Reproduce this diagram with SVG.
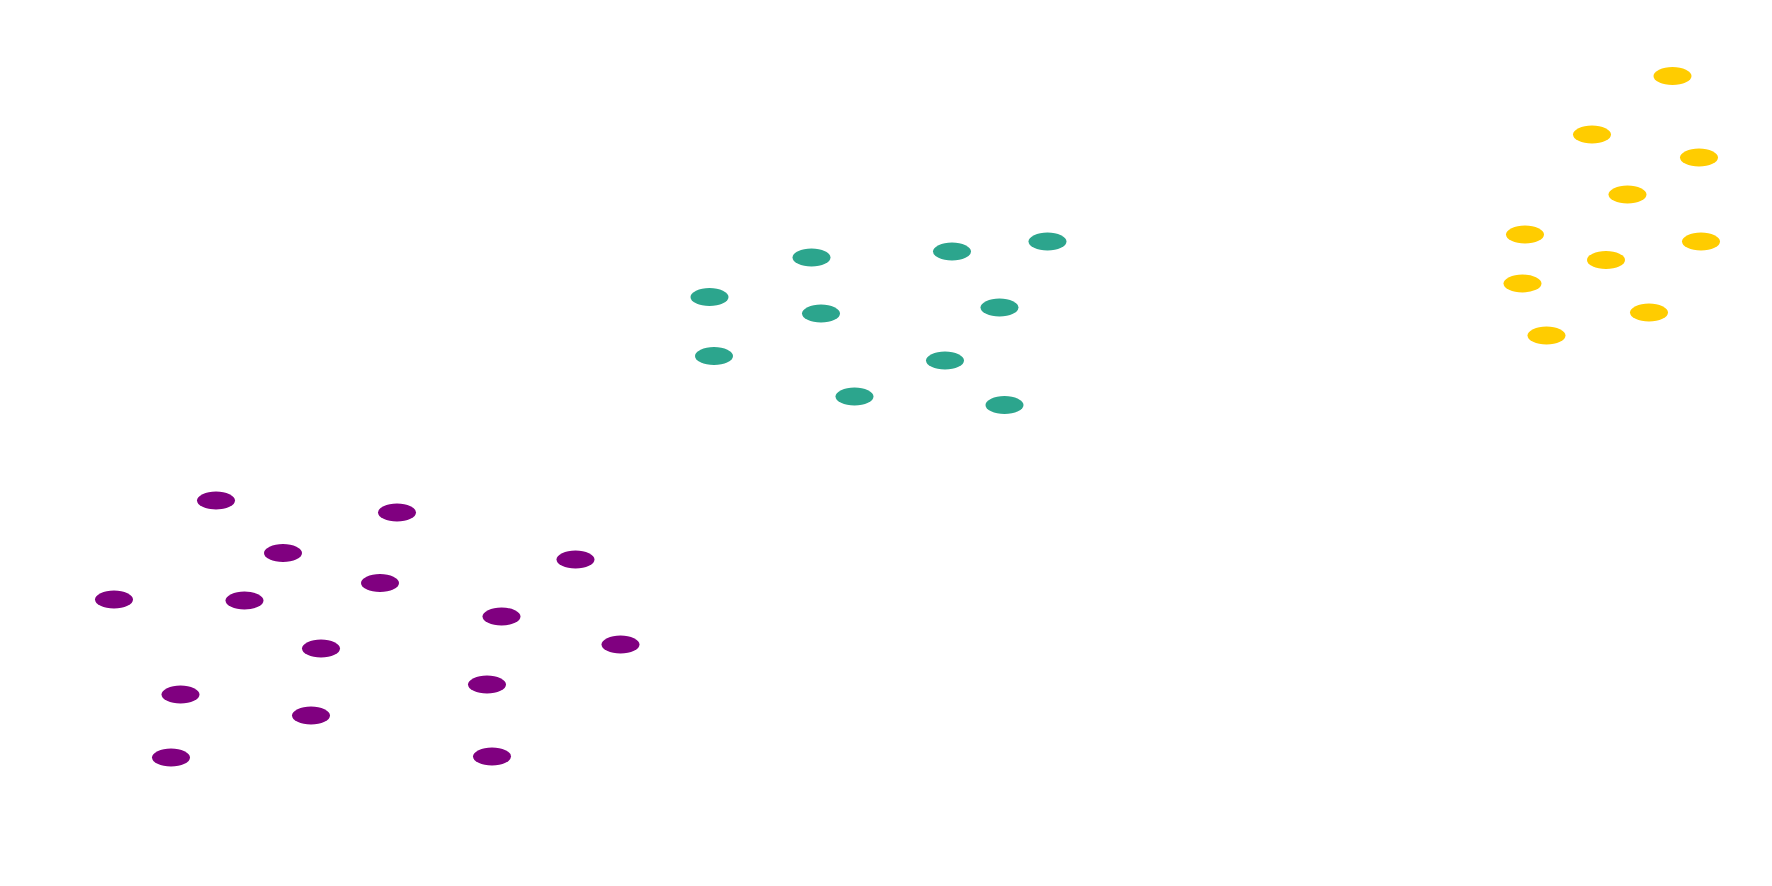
<svg xmlns="http://www.w3.org/2000/svg" width="1772" height="886" viewBox="0 0 1772 886">
<style>
.n ellipse{rx:19px;ry:9px}
.p{fill:#800080}
.g{fill:#2ca58d}
.y{fill:#ffcc00}
</style>
<rect width="1772" height="886" fill="#ffffff"/>
<g id="connectors"/>
<g id="purple" class="n">
<g id="p1"><ellipse class="p" cx="216" cy="500.5" rx="19" ry="9"/></g>
<g id="p2"><ellipse class="p" cx="397" cy="512.5" rx="19" ry="9"/></g>
<g id="p3"><ellipse class="p" cx="283" cy="553" rx="19" ry="9"/></g>
<g id="p4"><ellipse class="p" cx="575.5" cy="559.5" rx="19" ry="9"/></g>
<g id="p5"><ellipse class="p" cx="380" cy="583" rx="19" ry="9"/></g>
<g id="p6"><ellipse class="p" cx="114" cy="599.5" rx="19" ry="9"/></g>
<g id="p7"><ellipse class="p" cx="244.5" cy="600.5" rx="19" ry="9"/></g>
<g id="p8"><ellipse class="p" cx="501.5" cy="616.5" rx="19" ry="9"/></g>
<g id="p9"><ellipse class="p" cx="620.5" cy="644.5" rx="19" ry="9"/></g>
<g id="p10"><ellipse class="p" cx="321" cy="648.5" rx="19" ry="9"/></g>
<g id="p11"><ellipse class="p" cx="180.5" cy="694.5" rx="19" ry="9"/></g>
<g id="p12"><ellipse class="p" cx="487" cy="684.5" rx="19" ry="9"/></g>
<g id="p13"><ellipse class="p" cx="311" cy="715.5" rx="19" ry="9"/></g>
<g id="p14"><ellipse class="p" cx="171" cy="757.5" rx="19" ry="9"/></g>
<g id="p15"><ellipse class="p" cx="492" cy="756.5" rx="19" ry="9"/></g>
</g>
<g id="green" class="n">
<g id="g1"><ellipse class="g" cx="811.5" cy="257.5" rx="19" ry="9"/></g>
<g id="g2"><ellipse class="g" cx="952" cy="251.5" rx="19" ry="9"/></g>
<g id="g3"><ellipse class="g" cx="1047.5" cy="241.5" rx="19" ry="9"/></g>
<g id="g4"><ellipse class="g" cx="709.5" cy="297" rx="19" ry="9"/></g>
<g id="g5"><ellipse class="g" cx="821" cy="313.5" rx="19" ry="9"/></g>
<g id="g6"><ellipse class="g" cx="999.5" cy="307.5" rx="19" ry="9"/></g>
<g id="g7"><ellipse class="g" cx="714" cy="356" rx="19" ry="9"/></g>
<g id="g8"><ellipse class="g" cx="945" cy="360.5" rx="19" ry="9"/></g>
<g id="g9"><ellipse class="g" cx="854.5" cy="396.5" rx="19" ry="9"/></g>
<g id="g10"><ellipse class="g" cx="1004.5" cy="405" rx="19" ry="9"/></g>
</g>
<g id="yellow" class="n">
<g id="y1"><ellipse class="y" cx="1672.5" cy="76" rx="19" ry="9"/></g>
<g id="y2"><ellipse class="y" cx="1592" cy="134.5" rx="19" ry="9"/></g>
<g id="y3"><ellipse class="y" cx="1699" cy="157.5" rx="19" ry="9"/></g>
<g id="y4"><ellipse class="y" cx="1627.5" cy="194.5" rx="19" ry="9"/></g>
<g id="y5"><ellipse class="y" cx="1525" cy="234.5" rx="19" ry="9"/></g>
<g id="y6"><ellipse class="y" cx="1701" cy="241.5" rx="19" ry="9"/></g>
<g id="y7"><ellipse class="y" cx="1606" cy="260" rx="19" ry="9"/></g>
<g id="y8"><ellipse class="y" cx="1522.5" cy="283.5" rx="19" ry="9"/></g>
<g id="y9"><ellipse class="y" cx="1649" cy="312.5" rx="19" ry="9"/></g>
<g id="y10"><ellipse class="y" cx="1546.5" cy="335.5" rx="19" ry="9"/></g>
</g>
</svg>
